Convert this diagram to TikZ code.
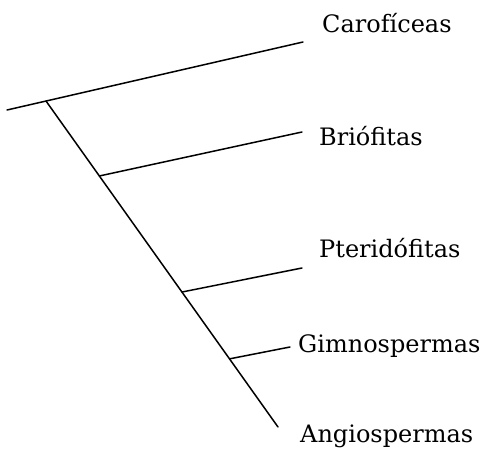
\documentclass[tikz,border=0pt]{standalone}
\usepackage{fontspec}
\setmainfont{DejaVu Serif}
\usetikzlibrary{positioning,calc}
\tikzset{
  branch/.style = {draw, line width=1.5pt, line cap=round},
  taxon/.style  = {inner sep=0pt, anchor=base west, font=\fontsize{24}{28}\selectfont}
}

\begin{document}
\begin{tikzpicture}[x=1pt,y=-1pt]
\useasboundingbox (0,0) rectangle (480,450);

% tips and junctions
\coordinate (root) at (7,110);
\coordinate (j0) at (46,101);
\coordinate (tipC) at (303,42);
\coordinate (tipA) at (278,427);
\coordinate (jB) at ($(j0)!0.23!(tipA)$);
\coordinate (jP) at ($(j0)!0.586!(tipA)$);
\coordinate (jG) at ($(j0)!0.791!(tipA)$);
\coordinate (tipB) at (302,132);
\coordinate (tipP) at (302,268);
\coordinate (tipG) at (290,347);

% taxa
\node[taxon] (caro) at (322,32) {Carofíceas};
\node[taxon] (brio) at (319,145) {Briófitas};
\node[taxon] (pter) at (319,257) {Pteridófitas};
\node[taxon] (gimn) at (298,352) {Gimnospermas};
\node[taxon] (angi) at (300,442) {Angiospermas};

\path [branch] (root) -- (tipC);
\path [branch] (j0) -- (tipA);
\path [branch] (jB) -- (tipB);
\path [branch] (jP) -- (tipP);
\path [branch] (jG) -- (tipG);

\end{tikzpicture}
\end{document}
